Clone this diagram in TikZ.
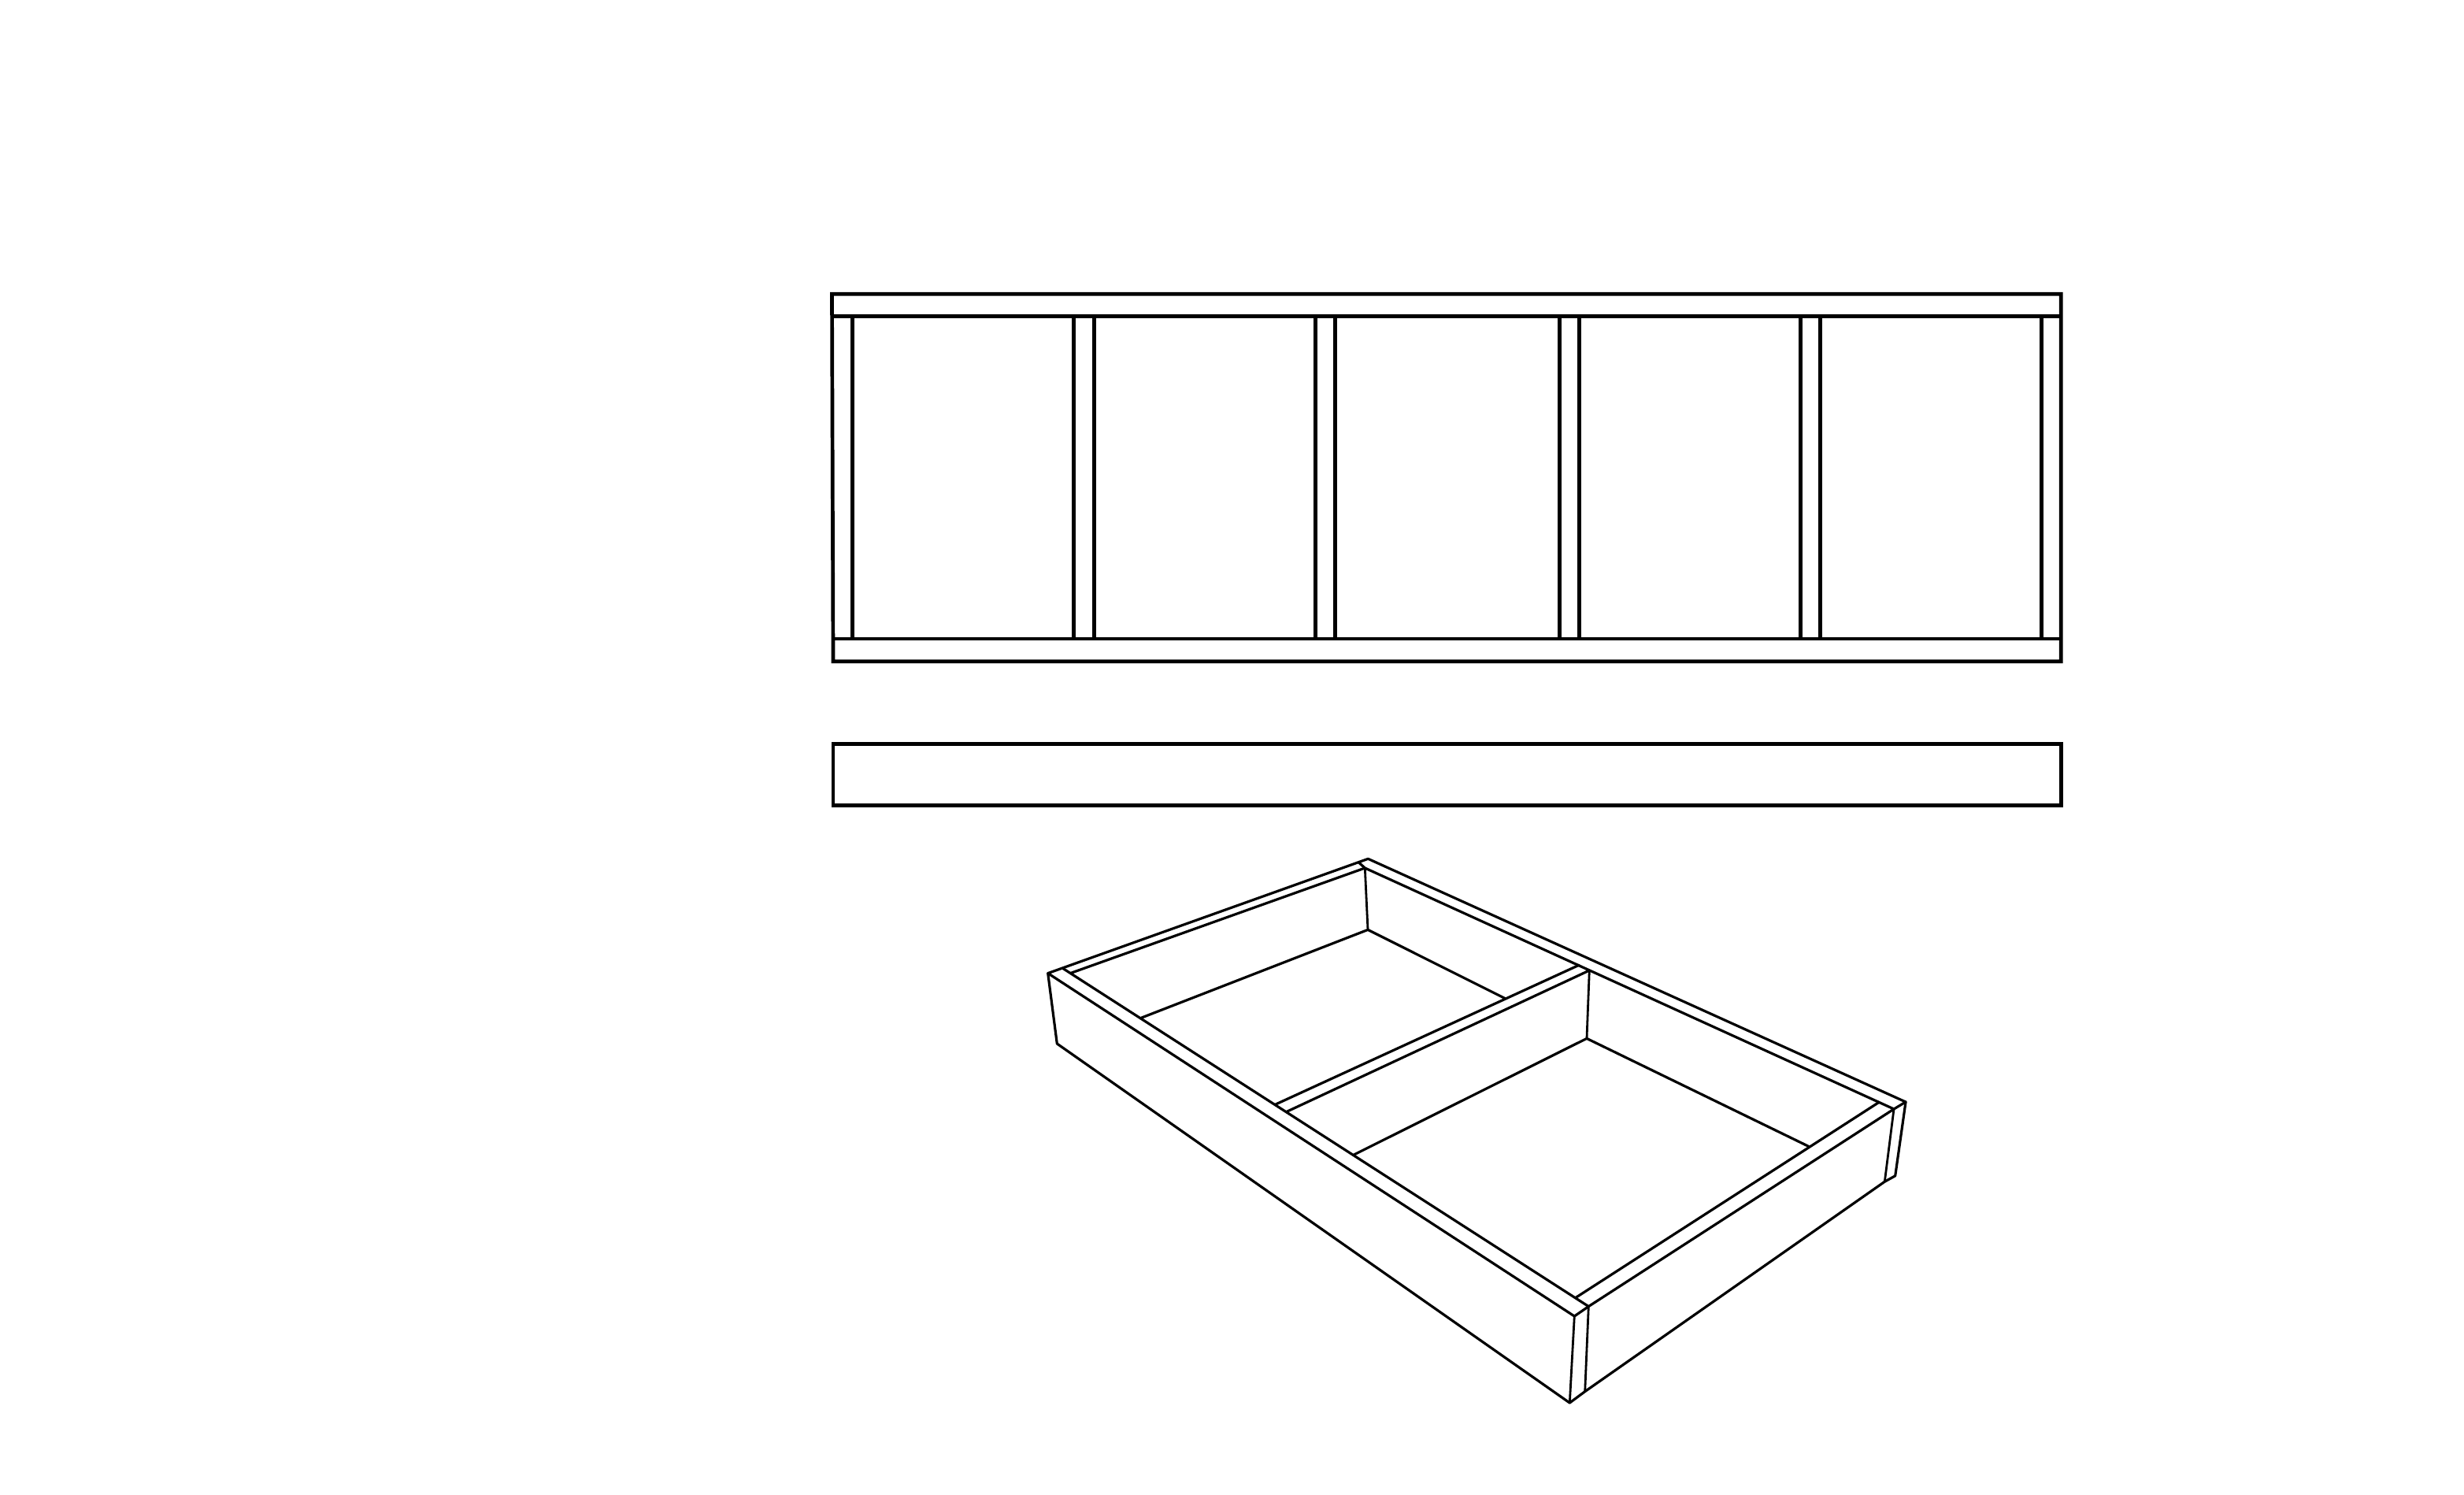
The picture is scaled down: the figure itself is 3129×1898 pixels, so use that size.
\documentclass[tikz,border=0pt]{standalone}
\usepackage{tikz}
\tikzset{
    panel/.style={draw=black,line width=0.47mm,line join=miter},
    tray/.style={draw=black,line width=0.32mm,line join=round,line cap=round},
    post/.style={draw=black,line width=0.28mm,line cap=round},
}

\begin{document}
\begin{tikzpicture}[x=0.1mm,y=-0.1mm]
            \useasboundingbox (0,0) rectangle (3129,1898);

            \draw[panel] (1056.5,373.3) -- (2617.3,373.3) -- (2617.3,839.8) -- (1058,839.8) -- cycle;
            \draw[panel] (1057,401.3) -- (2617.3,401.3);
            \draw[panel] (1058,811) -- (2617.3,811);
            \foreach \barx in {1082.3,1363.3,1389.3,1670.7,1695.3,1980.7,2005.3,2286.3,2311.3,2592.3} {
                \draw[panel] (\barx,401.3) -- (\barx,811);
            }

            \draw[panel] (1058,944.8) rectangle (2617.3,1022.8);

            \coordinate (rimleft) at (1330.7,1235.6);
            \coordinate (footleft) at (1342.3,1325);
            \coordinate (rimback) at (1737.3,1090.3);
            \coordinate (rimright) at (2420,1399);
            \coordinate (rimfront) at (1999.3,1671);
            \coordinate (footfront) at (1993.3,1781);
            \coordinate (inleft) at (1350,1229.6);
            \coordinate (inleftb) at (1360,1235.3);
            \coordinate (inback) at (1725,1094.6);
            \coordinate (inbackb) at (1733.3,1102);
            \coordinate (infront) at (2017.3,1658.6);
            \coordinate (infrontb) at (2000.7,1647.6);
            \coordinate (inright) at (2405,1408);
            \coordinate (inrightb) at (2385.7,1399.6);
            \coordinate (footin) at (2012.7,1766.6);
            \coordinate (footright) at (2393.3,1500.2);
            \coordinate (footrightb) at (2406.7,1492.8);
            \coordinate (divlefta) at (1620,1402);
            \coordinate (divleftb) at (1634.3,1411.2);
            \coordinate (divrighta) at (2005,1225.3);
            \coordinate (divrightb) at (2018.3,1232);
            \coordinate (floorback) at (1737,1180.4);
            \coordinate (floorleft) at (1449.3,1292.2);
            \coordinate (floorend) at (1911.7,1267.8);
            \coordinate (floormid) at (2015,1318.4);
            \coordinate (floorfront) at (1719.3,1466);
            \coordinate (floorright) at (2296.7,1455.4);

            \draw[tray] (rimleft) -- (rimback) -- (rimright) -- (inright) -- (inbackb) -- (inback);
            \draw[tray] (rimleft) -- (rimfront) -- (infront) -- (inright);
            \draw[tray] (rimleft) -- (footleft) -- (footfront) -- (footin) -- (footright) -- (footrightb) -- (rimright);
            \draw[tray] (inleft) -- (infront);
            \draw[tray] (inleftb) -- (inbackb);
            \draw[tray] (infrontb) -- (inrightb);

            \draw[tray] (divlefta) -- (divrighta);
            \draw[tray] (divleftb) -- (divrightb);
            \draw[tray] (floorleft) -- (floorback) -- (floorend);
            \draw[tray] (floorfront) -- (floormid) -- (floorright);

            \draw[post] (rimfront) -- (footfront);
            \draw[post] (infront) -- (footin);
            \draw[post] (inright) -- (footright);
            \draw[post] (inbackb) -- (floorback);
            \draw[post] (divrightb) -- (floormid);
\end{tikzpicture}
\end{document}
